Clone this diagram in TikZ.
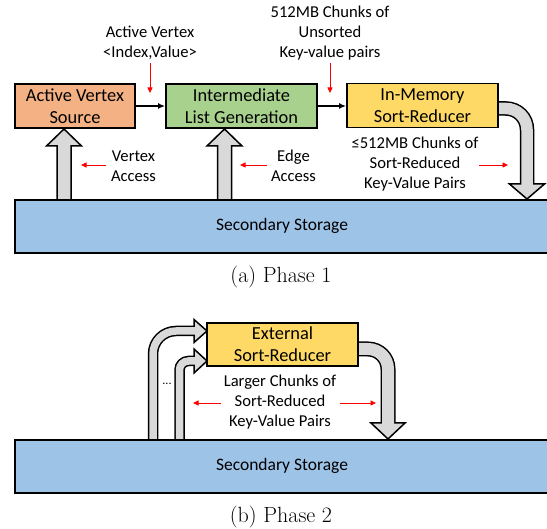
\documentclass[tikz,border=0pt]{standalone}
\usepackage{fontspec}
\newfontfamily\calfont{Carlito}
\usetikzlibrary{arrows.meta}
\definecolor{cOrange}{HTML}{F4B183}
\definecolor{cGreen}{HTML}{A9D18E}
\definecolor{cYellow}{HTML}{FFD966}
\definecolor{cBlue}{HTML}{9DC3E6}
\definecolor{cGray}{HTML}{D9D9D9}
\begin{document}
\begin{tikzpicture}[x=1pt,y=-1pt,
  box/.style={draw=black,line width=1.8pt,minimum height=44pt,inner sep=0pt,align=center,font=\calfont\fontsize{18.4}{22}\selectfont},
  lbl/.style={align=center,inner sep=0pt,font=\calfont\fontsize{16.6}{20}\selectfont},
  sttext/.style={inner sep=0pt,font=\calfont\fontsize{17.5}{20}\selectfont},
  captext/.style={inner sep=0pt,font=\fontsize{22}{26}\selectfont},
  conn/.style={line width=1.5pt,-{Latex[length=7pt,width=6pt]}},
  redarr/.style={red,line width=0.8pt,-{Triangle[length=5.5pt,width=5pt]}},
  blk/.style={fill=cGray,draw=black,line width=1.5pt,line join=miter},
  shaftout/.style={draw=black,line cap=butt},
  shaftin/.style={draw=cGray,line cap=butt},
  storage/.style={draw=black,fill=cBlue,line width=1.8pt,inner sep=0pt}
]
\clip (0,0) rectangle (547,529);
% ---------------- Phase 1 ----------------
% up arrows
\filldraw[blk] (57,205) -- (57,146) -- (46.5,146) -- (64,129) -- (81.5,146) -- (71,146) -- (71,205);
\filldraw[blk] (217.5,205) -- (217.5,146) -- (207,146) -- (224.5,129) -- (242,146) -- (231.5,146) -- (231.5,205);
% bent arrow from in-memory sort-reducer
\draw[shaftout,line width=14.5pt,rounded corners=21pt] (480,108.5) -- (527,108.5) -- (527,185);
\filldraw[blk] (509.5,184) -- (527,199) -- (544.5,184) -- cycle;
\draw[shaftin,line width=11.5pt,rounded corners=21pt] (480,108.5) -- (527,108.5) -- (527,186);

\node[box,fill=cOrange,minimum width=120pt] (avs) at (75,106) {Active Vertex\\Source};
\node[box,fill=cGreen,minimum width=151pt] (ilg) at (241.5,106) {Intermediate\\List Generation};
\node[box,fill=cYellow,minimum width=151pt] (imsr) at (422.5,105.5) {In-Memory\\Sort-Reducer};
\draw[conn] (avs.east) -- (ilg.west);
\draw[conn] (ilg.east |- 0,106) -- (imsr.west |- 0,106);

\node[storage,minimum width=560pt,minimum height=53pt,anchor=north west] (st1) at (14,199) {};
\node[sttext] (st1t) at (282,225.5) {Secondary Storage};

\node[lbl] (lav) at (150,43) {Active Vertex\\<Index,Value>};
\node[lbl] (l512) at (330,33) {512MB Chunks of\\Unsorted\\Key-value pairs};
\node[lbl] (lva) at (133.5,166) {Vertex\\Access};
\node[lbl] (lea) at (293.5,166) {Edge\\Access};
\node[lbl] (lsr) at (415,164) {≤512MB Chunks of\\Sort-Reduced\\Key-Value Pairs};

\coordinate (r1a) at (150,63); \coordinate (r1b) at (150,93);
\coordinate (r2a) at (330,63); \coordinate (r2b) at (330,93);
\coordinate (r3a) at (106,165); \coordinate (r3b) at (81,165);
\coordinate (r4a) at (267,165); \coordinate (r4b) at (240,165);
\coordinate (r5a) at (479,165); \coordinate (r5b) at (508,165);
\draw[redarr] (r1a) -- (r1b);
\draw[redarr] (r2a) -- (r2b);
\draw[redarr] (r3a) -- (r3b);
\draw[redarr] (r4a) -- (r4b);
\draw[redarr] (r5a) -- (r5b);

\node[captext] (capa) at (281,277) {(a) Phase 1};

% ---------------- Phase 2 ----------------
% outer left bent arrow
\draw[shaftout,line width=10.5pt,rounded corners=23pt] (153,445) -- (153,331) -- (195,331);
\filldraw[blk] (194,319.5) -- (207,331) -- (194,342.5) -- cycle;
\draw[shaftin,line width=7.5pt,rounded corners=23pt] (153,445) -- (153,331) -- (196,331);
% inner left bent arrow
\draw[shaftout,line width=10.5pt,rounded corners=9pt] (179.5,445) -- (179.5,361) -- (195,361);
\filldraw[blk] (194,349) -- (207,361) -- (194,373) -- cycle;
\draw[shaftin,line width=7.5pt,rounded corners=9pt] (179.5,445) -- (179.5,361) -- (196,361);
% right bent arrow
\draw[shaftout,line width=15pt,rounded corners=20pt] (340,349) -- (388,349) -- (388,424);
\filldraw[blk] (371,423) -- (388,439) -- (405,423) -- cycle;
\draw[shaftin,line width=12pt,rounded corners=20pt] (340,349) -- (388,349) -- (388,425);

\node[box,fill=cYellow,minimum width=151pt,minimum height=43pt] (esr) at (282.5,344.5) {External\\Sort-Reducer};

\node[storage,minimum width=560pt,minimum height=53pt,anchor=north west] (st2) at (14,439) {};
\node[sttext] (st2t) at (282,465.5) {Secondary Storage};

\node[lbl] (llc) at (280,402) {Larger Chunks of\\Sort-Reduced\\Key-Value Pairs};
\node[inner sep=0pt,font=\calfont\fontsize{12}{14}\selectfont] (dots) at (167,384) {...};

\coordinate (r6a) at (221,403); \coordinate (r6b) at (193,403);
\coordinate (r7a) at (340,403); \coordinate (r7b) at (376,403);
\draw[redarr] (r6a) -- (r6b);
\draw[redarr] (r7a) -- (r7b);

\node[captext] (capb) at (281,517) {(b) Phase 2};
\end{tikzpicture}
\end{document}
